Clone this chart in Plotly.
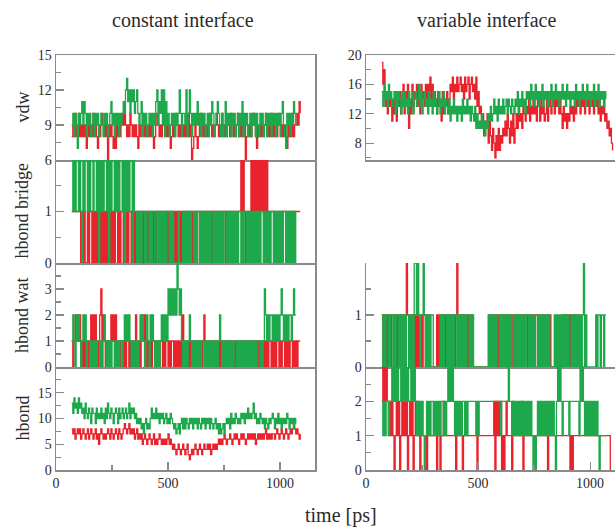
import plotly.graph_objects as go

# sampling times (ps); each series uses the first len(series) entries
time_ps = list(range(70, 1105, 5))

# ---------------- constant interface ----------------
vdw_const_green = [
    9,10,8,10,9,7,10,9,10,11, 9,11,10,8,10,9,10,8,9,10, 8,10,9,10,8,9,10,9,8,10,
    9,10,8,9,10,11,9,10,8,10, 9,10,8,10,9,10,11,10,12,13, 11,12,10,12,11,12,10,11,12,10,
    9,10,11,8,10,9,10,8,9,10, 9,10,8,10,9,11,12,9,11,10, 12,9,12,8,11,9,10,8,9,10,
    9,10,8,10,9,10,12,10,8,10, 10,9,12,8,10,12,10,8,10,9, 10,9,11,9,10,8,10,9,10,8,
    9,10,8,10,9,11,10,8,9,10, 11,10,9,8,10,8,9,11,8,10, 9,10,8,10,9,10,8,9,10,8,
    10,9,11,8,10,9,10,8,9,10, 8,10,9,10,8,10,9,8,10,9, 10,8,9,10,8,10,9,10,8,10,
    9,10,8,10,9,10,8,10,11,9, 8,7,10,9,10,8,10,9,11,10, 9]
vdw_const_red = [
    8,9,8,10,8,9,10,8,9,8, 9,8,9,7,8,9,8,9,8,10, 8,9,8,7,9,8,9,10,9,8,
    9,8,6,9,8,9,8,7,8,7, 9,8,9,8,9,10,9,10,9,8, 9,8,10,9,8,9,8,9,8,7,
    9,8,9,10,9,8,9,8,9,8, 9,8,9,7,8,9,10,9,8,9, 8,9,10,9,8,9,8,9,7,8,
    9,8,9,10,9,8,9,8,9,8, 9,8,9,8,10,8,9,6,7,8, 9,8,7,8,9,10,9,8,9,8,
    9,8,9,10,9,8,9,8,9,10, 9,8,9,8,10,9,8,9,8,9, 9,8,10,9,8,9,8,9,10,8,
    9,8,9,8,9,6,8,9,8,9, 8,9,10,9,8,7,9,8,9,8, 9,8,9,10,9,8,9,8,10,8,
    9,8,9,8,9,10,9,8,9,8, 9,8,7,9,8,9,8,10,8,9, 9,10,9,11,10]

bridge_const_green = [
    2,1,2,1,2,2,1,2,1,0, 2,1,2,2,1,2,1,2,2,1, 2,2,1,2,0,2,1,2,1,2,
    2,1,2,0,2,1,2,2,1,2, 1,2,1,2,2,1,2,0,2,1, 2,1,2,2,0,2,1,1,0,1,
    0,1,0,1,1,0,1,0,0,1, 0,1,0,0,1,1,0,1,0,1, 0,1,0,1,0,1,1,0,1,0,
    1,0,0,0,0,1,0,0,0,1, 0,1,0,1,0,1,0,1,1,0, 1,0,1,1,0,1,0,1,0,1,
    0,1,0,1,0,0,1,0,1,0, 1,0,1,0,1,0,1,1,0,1, 0,1,0,1,0,1,0,1,0,1,
    1,0,1,0,1,1,0,1,0,1, 0,1,0,1,0,1,0,1,0,1, 1,0,1,0,1,0,1,0,1,1,
    0,1,0,1,0,1,0,1,0,1, 1,0,1,0,1,0,1,0,1,0, 1]
bridge_const_red = [
    1,1,1,1,1,1,1,1,0,1, 0,1,0,0,1,0,1,1,0,1, 0,1,0,1,1,0,1,0,1,0,
    1,0,1,1,0,1,0,1,0,1, 1,0,1,0,1,1,0,1,0,1, 0,1,1,0,1,0,1,0,1,1,
    0,1,0,1,0,1,1,0,1,0, 1,0,1,0,0,1,0,1,1,0, 1,0,1,1,0,1,0,1,0,1,
    1,0,1,0,1,0,1,0,1,0, 1,0,1,0,1,1,0,1,0,1, 1,0,1,1,0,1,0,1,0,1,
    0,1,0,1,1,0,1,0,1,1, 0,1,0,1,0,1,1,0,1,1, 0,1,0,1,1,0,1,0,1,1,
    1,2,1,2,1,0,1,0,1,1, 2,1,2,1,2,1,2,1,2,1, 2,1,2,1,2,1,1,1,1,1,
    1,1,1,0,1,1,1,1,1,1, 1,1,1,1,1,1,1,1,1,1, 1,1,1,1,1]

wat_const_green = [
    1,2,1,0,2,1,2,1,0,1, 2,1,2,0,1,1,0,1,0,1, 0,1,0,1,1,0,1,0,1,2,
    1,0,1,0,1,0,1,1,0,1, 0,1,0,1,1,0,1,2,1,2, 1,2,1,0,1,0,1,0,1,0,
    1,2,1,2,1,0,1,2,1,0, 2,1,2,1,0,1,0,1,0,1, 2,1,2,1,2,1,3,2,3,2,
    3,2,3,2,4,3,2,3,1,0, 1,0,1,0,1,2,1,0,1,0, 1,0,1,0,1,0,1,1,0,1,
    0,1,0,1,0,1,0,1,0,1, 0,1,2,1,0,1,0,1,0,1, 0,1,0,1,0,1,1,0,1,0,
    1,0,1,0,1,0,1,0,1,0, 1,0,1,0,1,0,1,1,0,1, 0,1,3,2,1,2,1,2,2,1,
    2,1,2,1,2,1,2,3,2,1, 2,1,2,1,2,2,1,2,3,2, 2]
wat_const_red = [
    1,0,1,2,1,2,1,2,1,0, 1,0,1,0,1,0,1,2,1,2, 1,2,1,0,1,2,3,1,2,1,
    0,1,0,1,0,2,1,2,1,2, 1,0,1,0,1,1,0,1,0,1, 1,0,1,0,1,0,1,2,1,0,
    1,0,1,2,1,2,1,0,1,0, 1,0,1,1,0,1,0,1,0,1, 1,0,1,0,1,1,0,1,0,1,
    1,0,1,0,1,0,1,0,1,2, 1,0,1,1,0,1,0,1,0,1, 1,0,1,0,1,1,0,1,2,1,
    0,1,0,1,0,1,1,0,1,0, 1,0,1,0,1,1,0,1,0,1, 1,0,1,1,0,1,0,1,0,1,
    0,1,0,1,1,0,1,0,1,0, 1,0,1,0,1,1,0,1,0,1, 1,0,1,0,1,0,1,1,0,1,
    0,1,0,1,1,0,1,0,1,1, 0,1,0,1,0,1,1,0,1,0, 1,0,1,1,1]

hbond_const_green = [
    13,11,14,12,13,11,14,12,13,11, 12,10,13,11,10,12,11,9,12,11, 11,9,12,10,11,10,12,10,11,9,
    12,10,13,11,10,12,11,9,11,12, 11,9,12,10,11,12,10,11,12,10, 11,13,10,12,11,12,10,11,9,10,
    9,10,8,9,7,9,10,8,9,8, 10,12,10,11,10,12,10,11,9,11, 10,11,9,10,11,9,10,9,11,10,
    9,8,9,7,8,9,7,9,10,8, 10,8,10,9,8,10,9,10,8,10, 9,10,8,10,9,8,10,9,10,8,
    10,9,10,8,10,9,8,9,10,8, 9,7,9,7,8,9,7,9,10,9, 10,8,11,9,10,9,11,10,9,10,
    9,11,10,11,9,11,10,12,10,11, 10,11,13,10,11,9,10,9,11,10, 9,10,8,10,9,8,10,9,10,11,
    10,8,10,9,11,9,10,8,10,9, 10,9,11,10,8,10,9,10,8,10, 9]
hbond_const_red = [
    8,7,8,6,7,8,7,8,6,7, 8,7,6,7,8,6,7,8,7,6, 7,8,6,7,5,7,8,7,6,7,
    6,7,8,7,6,8,7,6,7,8, 7,6,8,7,6,7,8,9,8,7, 8,9,7,8,7,8,6,7,8,6,
    7,6,7,5,6,7,6,5,6,7, 6,5,6,7,5,6,5,6,7,6, 5,6,5,6,5,6,7,5,6,5,
    4,5,4,3,4,5,4,3,4,5, 4,3,4,5,3,2,3,4,3,4, 5,4,3,4,5,4,3,4,5,4,
    4,5,4,5,3,4,5,4,5,4, 5,6,5,6,5,6,7,6,5,6, 6,7,6,5,6,7,6,7,6,5,
    6,7,6,7,6,5,6,7,6,7, 6,7,6,7,5,6,7,6,7,6, 7,6,7,8,6,7,6,7,6,7,
    7,6,7,8,7,6,7,8,7,6, 7,8,7,6,7,8,7,8,9,8, 7,8,7,6,7]

# ---------------- variable interface ----------------
vdw_var_green = [
    15,13,16,14,15,13,16,14,15,13, 14,15,12,15,13,15,14,12,15,13, 15,13,14,12,15,13,14,15,12,14,
    15,13,14,16,13,15,12,14,15,13, 14,12,15,13,14,12,15,13,14,12, 13,15,12,14,13,15,12,14,13,12,
    14,11,13,12,14,12,13,11,13,12, 13,11,14,12,13,12,14,12,13,11, 13,12,11,13,10,12,10,11,10,12,
    10,11,9,11,10,12,11,13,11,12, 14,12,13,11,14,12,13,12,14,12, 13,14,12,14,13,12,14,13,12,14,
    13,15,12,14,13,15,13,14,12,15, 14,15,13,16,14,15,13,16,14,15, 13,15,14,16,13,15,14,15,13,15,
    14,16,13,15,14,16,14,15,13,15, 14,16,14,15,13,16,14,15,13,15, 14,15,13,16,14,15,13,15,14,16,
    14,15,13,16,14,15,13,15,14,16, 13,15,14,16,13,15,14,15,13,15, 14]
vdw_var_red = [
    19,16,18,13,15,12,15,13,14,11, 14,12,15,11,14,13,15,12,14,16, 12,15,13,16,10,14,12,16,13,15,
    14,16,13,15,12,16,14,15,13,16, 14,16,13,17,14,16,13,15,14,12, 15,13,14,11,15,12,14,13,15,12,
    14,16,15,17,14,16,15,17,15,16, 17,15,16,14,17,15,16,17,14,16, 17,15,16,14,17,13,15,12,13,10,
    12,9,11,10,12,8,11,9,7,10, 8,6,9,7,10,7,9,8,10,9, 11,9,12,10,8,11,9,12,8,10,
    12,10,13,11,12,10,13,12,11,13, 12,14,11,13,12,14,12,13,11,14, 13,11,14,12,13,11,12,14,11,13,
    14,12,13,15,12,14,13,15,12,14, 12,10,13,11,12,10,12,11,13,12, 13,11,14,12,15,13,14,12,15,13,
    14,12,15,13,14,12,15,13,14,12, 15,13,14,12,14,11,13,12,14,11, 12,10,11,9,10,8,7]

wat_var_green = [
    0,1,0,1,0,0,1,0,1,1, 0,1,0,1,1,0,1,0,1,0, 1,0,1,1,0,1,0,1,0,2,
    2,1,2,1,0,1,1,2,1,0, 1,0,1,0,1,1,0,0,0,0, 0,0,1,0,1,0,1,1,0,1,
    0,1,0,1,0,1,1,0,1,0, 1,0,1,0,1,0,1,1,0,1, 0,1,0,0,0,0,0,0,0,0,
    0,0,0,0,0,1,0,1,0,1, 0,1,0,1,1,0,1,0,1,0, 1,0,1,0,1,0,1,1,0,1,
    0,1,0,1,0,1,0,1,0,1, 1,0,1,0,1,0,1,0,0,1, 0,1,0,1,0,1,0,1,0,1,
    0,0,0,0,1,0,1,0,1,0, 1,0,1,0,1,0,1,0,0,1, 0,1,0,1,0,1,0,1,0,1,
    2,0,1,0,0,0,0,0,0,0, 0,1,0,1,1,0,1,1,0,1, 1]
wat_var_red = [
    1,0,1,1,0,1,0,1,0,1, 1,0,1,0,1,0,1,1,0,1, 0,1,2,1,0,1,0,1,0,1,
    0,1,0,1,0,1,0,1,1,0, 1,0,1,0,0,0,0,0,0,1, 0,1,0,1,0,1,0,1,0,1,
    1,0,1,0,1,0,1,2,1,0, 1,0,1,1,0,1,0,1,0,0, 1,0,0,0,0,0,0,0,0,0,
    0,0,0,0,0,0,1,0,1,0, 1,0,1,0,1,0,1,0,1,1, 0,1,0,1,0,1,1,0,1,0,
    1,0,1,0,1,0,1,0,1,1, 0,1,0,1,0,1,0,1,1,0, 1,0,1,0,1,0,1,0,1,0,
    1,0,0,0,0,0,0,0,0,0, 0,1,0,1,0,1,1,0,1,0, 1,0,1,0,1,0,1,0,0,0,
    0,0]

hbond_var_green = [
    2,1,2,1,2,2,1,2,2,3, 2,3,2,3,2,3,3,2,3,2, 3,2,3,2,3,3,2,3,2,3,
    2,1,2,1,2,1,2,1,0,1, 2,1,2,1,2,2,1,2,1,2, 1,2,1,2,2,1,2,1,2,3,
    2,3,2,3,2,1,2,1,2,1, 2,1,2,2,1,2,1,2,2,2, 2,2,2,2,1,2,1,2,2,2,
    2,2,2,2,2,2,2,2,2,2, 2,2,2,2,2,2,1,2,2,2, 2,2,2,3,2,2,1,2,1,2,
    1,2,1,2,1,2,1,2,1,2, 1,2,1,2,1,0,1,0,1,2, 1,2,1,2,1,2,1,2,1,2,
    1,2,1,2,1,0,2,3,2,3, 2,1,2,2,2,2,2,1,2,2, 2,2,2,2,2,2,1,3,2,3,
    2,1,2,1,2,1,2,1,2,1, 2,1,2,1,0,1,1,1,1,1, 1]
hbond_var_red = [
    3,2,3,2,3,2,1,2,1,2, 1,0,1,2,1,2,0,1,2,1, 2,1,2,0,1,2,1,2,0,1,
    2,1,2,1,0,1,1,1,1,1, 0,1,1,1,1,1,1,1,1,0, 1,1,0,1,1,2,1,1,1,1,
    1,1,1,1,1,1,0,1,1,1, 1,1,0,1,1,1,1,1,1,1, 1,1,1,1,1,0,1,1,1,1,
    1,1,1,1,1,1,1,1,1,1, 2,0,2,1,2,1,2,0,1,0, 1,2,1,1,1,1,0,2,1,1,
    1,1,1,1,1,2,0,1,1,1, 1,1,1,1,1,1,1,1,1,1, 1,1,1,1,1,1,1,1,0,1,
    1,1,1,1,1,1,1,1,1,1, 1,1,1,1,1,1,1,1,0,1, 0,1,1,1,1,1,1,1,1,1,
    1,1,1,1,1,1,1,1,1,1, 1,1,1,1,1,1,1,1,1,1, 1,1,1,1,0]

row_titles = ["vdw", "hbond bridge", "hbond wat", "hbond"]
col_titles = ["constant interface", "variable interface"]

RED = "#e8232b"
GREEN = "#1ea84c"
FRAME = "#8a8a8a"
TXT = "#2b2b2b"
FONT = "Liberation Serif"
W, H = 615, 529

LEFT = [56 / W, 315 / W]
RIGHT = [366 / W, 1.0]
row_px = [(55, 160), (160, 263), (263, 367), (367, 470)]


def ydom(r):
    top, bot = row_px[r]
    return [1 - bot / H, 1 - top / H]


# panel specs: (column, row, yrange, tickvals, minor tickvals, series)
panels = [
    (0, 0, [6, 15], [6, 9, 12, 15], [7.5, 10.5, 13.5], [vdw_const_red, vdw_const_green]),
    (0, 1, [0, 2], [0, 1], [0.5, 1.5], [bridge_const_red, bridge_const_green]),
    (0, 2, [0, 4], [0, 1, 2, 3], [0.5, 1.5, 2.5, 3.5], [wat_const_red, wat_const_green]),
    (0, 3, [0, 20], [0, 5, 10, 15], [2.5, 7.5, 12.5, 17.5], [hbond_const_red, hbond_const_green]),
    (1, 0, [5.7, 20], [8, 12, 16, 20], [6, 10, 14, 18], [vdw_var_red, vdw_var_green]),
    (1, 1, [0, 2], [0], [], []),
    (1, 2, [0, 2], [0, 1], [0.5, 1.5], [wat_var_red, wat_var_green]),
    (1, 3, [0, 3], [0, 1, 2], [0.5, 1.5, 2.5], [hbond_var_red, hbond_var_green]),
]

fig = go.Figure()
layout = dict(
    template="none",
    width=W, height=H, autosize=False,
    margin=dict(l=0, r=0, t=0, b=0, pad=0),
    paper_bgcolor="white", plot_bgcolor="white",
    showlegend=False,
    font=dict(family=FONT, color=TXT, size=14),
)

for i, (col, row, yr, tv, mtv, series) in enumerate(panels):
    n = i + 1
    xs = "" if n == 1 else str(n)
    bottom = row == 3
    xr = [0, 1156] if col == 0 else [0, 1111]
    xa = dict(
        domain=LEFT if col == 0 else RIGHT,
        range=xr, anchor="y" + xs, automargin=False,
        showline=True, mirror=(row == 0), linecolor=FRAME, linewidth=1.5,
        showgrid=False, zeroline=False, fixedrange=True,
    )
    if bottom:
        xa.update(
            tickmode="array", tickvals=[0, 500, 1000], ticktext=["0", "500", "1000"],
            ticks="inside", ticklen=8, tickwidth=1.2, tickcolor=FRAME,
            tickfont=dict(family=FONT, size=14, color=TXT),
            minor=dict(tickmode="array", tickvals=[250, 750], ticks="inside",
                       ticklen=5, tickwidth=1.2, tickcolor=FRAME),
        )
    else:
        xa.update(showticklabels=False, ticks="")
    ya = dict(
        domain=ydom(row), range=yr, anchor="x" + xs, automargin=False,
        showline=True, mirror=(col == 0), linecolor=FRAME, linewidth=1.5,
        showgrid=False, zeroline=False, fixedrange=True,
        tickmode="array", tickvals=tv, ticktext=[("%g" % v) for v in tv],
        ticks="inside", ticklen=8, tickwidth=1.2, tickcolor=FRAME,
        tickfont=dict(family=FONT, size=14, color=TXT),
    )
    if mtv:
        ya["minor"] = dict(tickmode="array", tickvals=mtv, ticks="inside",
                           ticklen=5, tickwidth=1.2, tickcolor=FRAME)
    layout["xaxis" + xs] = xa
    layout["yaxis" + xs] = ya

    for vals, color in zip(series, [RED, GREEN]):
        fig.add_trace(go.Scatter(
            x=time_ps[:len(vals)], y=vals, mode="lines",
            line=dict(color=color, width=1.3, shape="hv"),
            xaxis="x" + xs, yaxis="y" + xs, hoverinfo="skip",
        ))

annotations = []
for col, title in enumerate(col_titles):
    dom = LEFT if col == 0 else RIGHT
    annotations.append(dict(
        text=title, x=(dom[0] + dom[1]) / 2 - (0.004 if col == 0 else 0.006),
        y=1 - 20 / H, xref="paper", yref="paper",
        showarrow=False, font=dict(family=FONT, size=20, color=TXT),
        xanchor="center", yanchor="middle"))
for row, title in enumerate(row_titles):
    d = ydom(row)
    annotations.append(dict(
        text=title, x=22 / W, y=(d[0] + d[1]) / 2, xref="paper", yref="paper",
        showarrow=False, textangle=-90, font=dict(family=FONT, size=18, color=TXT),
        xanchor="center", yanchor="middle"))
annotations.append(dict(
    text="time [ps]", x=341 / W, y=1 - 515 / H, xref="paper", yref="paper",
    showarrow=False, font=dict(family=FONT, size=20, color=TXT),
    xanchor="center", yanchor="middle"))
layout["annotations"] = annotations

fig.update_layout(**layout)
fig.write_html(
    "out.html",
    config={"displayModeBar": False, "staticPlot": True},
    post_script="document.body.style.margin='0px';document.body.style.padding='0px';document.body.style.overflow='hidden';",
)
